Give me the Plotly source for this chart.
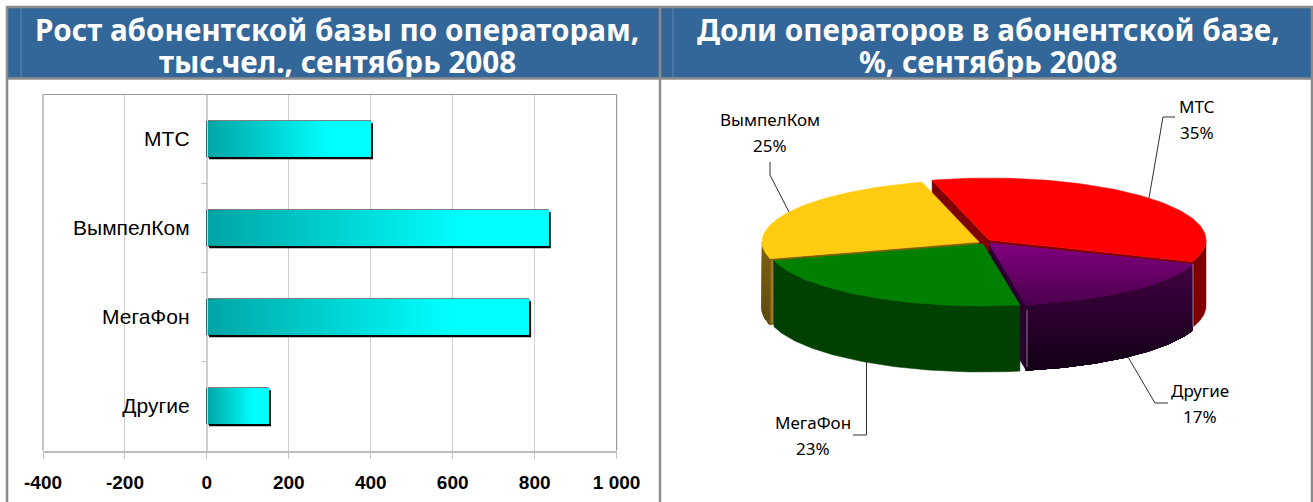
import numpy as np
import plotly.graph_objects as go

# ---- data ----
bar_categories = ["МТС", "ВымпелКом", "МегаФон", "Другие"]
bar_values = [400, 834, 786, 151]
x_tick_values = [-400, -200, 0, 200, 400, 600, 800, 1000]
x_tick_labels = ["-400", "-200", "0", "200", "400", "600", "800", "1 000"]
pie_labels = ["МТС", "Другие", "МегаФон", "ВымпелКом"]
pie_shares = [34.9, 16.6, 23.4, 25.1]
title_left = ["Рост абонентской базы по операторам,", "тыс.чел., сентябрь 2008"]
title_right = ["Доли операторов в абонентской базе,", "%, сентябрь 2008"]

W, H = 1313, 502
PX0, PX1, PY0, PY1 = 43.0, 616.6, 94.5, 450.5
xmin, xmax = -400, 1000
px_per_unit = (PX1 - PX0) / (xmax - xmin)
px_per_cat = (PY1 - PY0) / len(bar_categories)
BAR_W = 0.405
N_GRAD = 70


def lerp(c0, c1, f):
    f = max(0.0, min(1.0, f))
    return "rgb({},{},{})".format(*[int(round(a + (b - a) * f)) for a, b in zip(c0, c1)])


fig = go.Figure()
vals = np.array(bar_values, dtype=float)

# shadow
fig.add_trace(go.Bar(y=bar_categories, x=vals, base=2.2 / px_per_unit, orientation="h",
                     width=BAR_W, offset=-BAR_W / 2 + 2.2 / px_per_cat,
                     marker=dict(color="black", line=dict(width=0)), hoverinfo="skip"))
# outline
fig.add_trace(go.Bar(y=bar_categories, x=vals, base=0, orientation="h", width=BAR_W,
                     offset=-BAR_W / 2,
                     marker=dict(color="#00a8a8", line=dict(width=1, color="#101010")),
                     hoverinfo="skip"))
# gradient: each step runs to the bar's end and is painted over by the next step
for k in range(N_GRAD):
    f = k / N_GRAD
    fig.add_trace(go.Bar(y=bar_categories, x=vals * (1 - f), base=vals * f, orientation="h",
                         width=BAR_W - 0.012, offset=-(BAR_W - 0.012) / 2,
                         marker=dict(color=lerp((0, 166, 166), (0, 255, 255), f / 0.75),
                                     line=dict(width=0)),
                         hoverinfo="skip"))

# ---- 3D pie, angles derived from shares ----
A, B, DEPTH = 217.0, 62.0, 66.0
START = 105.2
centers = {"МТС": (989, 240), "Другие": (989, 243), "МегаФон": (983, 244), "ВымпелКом": (979, 242)}

angles = {}
a = START
for name, s in zip(pie_labels, pie_shares):
    angles[name] = (a, a - s * 3.6)
    a -= s * 3.6


def ell(c, t):
    t = np.radians(t)
    return c[0] + A * np.cos(t), c[1] - B * np.sin(t)


def top_poly(name):
    c = centers[name]
    t0, t1 = angles[name]
    x, y = ell(c, np.linspace(t0, t1, 90))
    return np.r_[c[0], x, c[0]], np.r_[c[1], y, c[1]]


def side_poly(name, t0, t1):
    c = centers[name]
    x, y = ell(c, np.linspace(t0, t1, 70))
    return np.r_[x, x[::-1], x[0]], np.r_[y, y[::-1] + DEPTH, y[0]]


def radial_face(name, t):
    c = centers[name]
    x, y = ell(c, t)
    return np.array([c[0], x, x, c[0], c[0]]), np.array([c[1], y, y + DEPTH, c[1] + DEPTH, c[1]])


def poly(x, y, color):
    fig.add_trace(go.Scatter(x=x, y=y, xaxis="x2", yaxis="y2", mode="lines", fill="toself",
                             fillcolor=color, line=dict(color=color, width=0.5), hoverinfo="skip"))


def clip_low(x, y, lo):
    pts = list(zip(x, y))
    out = []
    for i in range(len(pts)):
        p, q = pts[i], pts[(i + 1) % len(pts)]
        kp, kq = p[1] >= lo, q[1] >= lo
        if kp:
            out.append(p)
        if kp != kq:
            r = (lo - p[1]) / (q[1] - p[1])
            out.append((p[0] + r * (q[0] - p[0]), lo))
    if not out:
        return None, None
    xs, ys = zip(*out)
    return np.array(xs + xs[:1]), np.array(ys + ys[:1])


def grad_poly(x, y, c0, c1, n=28):
    # vertical gradient: each band reaches to the bottom and is painted over by the next
    lo, hi = np.min(y), np.max(y)
    edges = np.linspace(lo, hi, n + 1)
    for i in range(n):
        cx, cy = clip_low(x, y, edges[i])
        if cx is not None:
            poly(cx, cy, lerp(c0, c1, (i + 0.5) / n))


# back pieces first
t0, t1 = angles["МТС"]
poly(*radial_face("МТС", t0), "#800000")
poly(*radial_face("МТС", t1), "#800000")
poly(*side_poly("МТС", 0, t1), "#800000")
poly(*top_poly("МТС"), "#ff0000")

y_t1 = angles["ВымпелКом"][0]
grad_poly(*side_poly("ВымпелКом", 180, y_t1 + 360), (128, 100, 10), (92, 74, 16), 12)
poly(*radial_face("ВымпелКом", y_t1), "#806000")
poly(*top_poly("ВымпелКом"), "#ffcc11")

t0, t1 = angles["Другие"]
poly(*radial_face("Другие", t1), "#2a0030")
grad_poly(*side_poly("Другие", t0, t1), (66, 0, 66), (18, 0, 22))
grad_poly(*top_poly("Другие"), (128, 0, 128), (78, 0, 78))

t0, t1 = angles["МегаФон"]
poly(*side_poly("МегаФон", t0, t1), "#004000")
poly(*top_poly("МегаФон"), "#008000")

# ---- frame and headers ----
shapes = []


def pshape(kind, x0, y0, x1, y1, **kw):
    shapes.append(dict(type=kind, xref="x2", yref="y2", x0=x0, y0=y0, x1=x1, y1=y1, **kw))


GRAY = "#8c8c8c"
pshape("rect", 7, 7, 1312, 78, fillcolor="#336699", line=dict(width=0))
for x in (21, 673):
    pshape("line", x, 8, x, 77, line=dict(color="#5f88b2", width=1))
pshape("line", 6, 7, 1313, 7, line=dict(color=GRAY, width=2.5))
pshape("line", 6, 78.5, 1313, 78.5, line=dict(color=GRAY, width=2.5))
for x in (7, 660, 1312):
    pshape("line", x, 6, x, H, line=dict(color=GRAY, width=2.5))

# chart border
pshape("line", PX0, PY0, PX1, PY0, line=dict(color="#9a9a9a", width=1.2))
pshape("line", PX0, PY0, PX0, PY1, line=dict(color="#9a9a9a", width=1.2))
pshape("line", PX1, PY0, PX1, PY1, line=dict(color="#9a9a9a", width=1.2))

# pale edge highlights on the pie walls
for x, y0, y1 in ((772, 260, 323), (1027, 310, 367), (1193, 264, 327)):
    pshape("line", x, y0, x, y1, line=dict(color="#b09ab0", width=0.8))

# leader lines
leaders = [
    [(1175, 117), (1163, 117), (1149, 198)],
    [(770, 162), (770, 175), (789, 212)],
    [(853, 435), (866.5, 435), (866.5, 362)],
    [(1168, 403), (1155, 403), (1128, 357)],
]
for pts in leaders:
    for p, q in zip(pts, pts[1:]):
        pshape("line", p[0], p[1], q[0], q[1], line=dict(color="#303030", width=1))

# ---- texts ----
annotations = []


def text(x, y, s, size, color="black", family="Noto Sans", weight="normal", **kw):
    annotations.append(dict(xref="x2", yref="y2", x=x, y=y, text=s, showarrow=False,
                            xanchor="center", yanchor="middle",
                            font=dict(size=size, color=color, family=family, weight=weight), **kw))


for cx, lines in ((337, title_left), (988, title_right)):
    for yy, s in zip((29, 61), lines):
        text(cx, yy, s, 29.7, "white", "Noto Sans", "bold", height=32)

label_pos = {"МТС": (1197, 106), "ВымпелКом": (770, 119), "МегаФон": (813, 422), "Другие": (1200, 390)}
for name, s in zip(pie_labels, pie_shares):
    lx, ly = label_pos[name]
    text(lx, ly, name, 17)
    text(lx, ly + 26, f"{round(s)}%", 17)

fig.update_layout(
    width=W, height=H, margin=dict(l=0, r=0, t=0, b=0), showlegend=False,
    paper_bgcolor="white", plot_bgcolor="rgba(0,0,0,0)", barmode="overlay",
    shapes=shapes, annotations=annotations,
    xaxis=dict(domain=[PX0 / W, PX1 / W], range=[xmin, xmax], tickvals=x_tick_values,
               ticktext=x_tick_labels, showgrid=True, gridcolor="#cfcfcf", gridwidth=1.2,
               zeroline=False, showline=True, linecolor="#bdbdbd", linewidth=2,
               ticks="outside", ticklen=6, tickcolor="#c4c4c4", tickwidth=1,
               ticklabelstandoff=8, automargin=False,
               tickfont=dict(family="Liberation Sans", size=19, color="black", weight="bold")),
    yaxis=dict(domain=[1 - PY1 / H, 1 - PY0 / H], type="category",
               categoryorder="array", categoryarray=bar_categories,
               range=[len(bar_categories) - 0.5, -0.5], anchor="free",
               position=(PX0 + (0 - xmin) * px_per_unit) / W,
               tickson="boundaries", ticks="outside", ticklen=6, tickcolor="#c4c4c4",
               showline=True, linecolor="#cfcfcf", linewidth=1.2, showgrid=False,
               zeroline=False, ticklabelstandoff=13, automargin=False,
               tickfont=dict(family="Liberation Sans", size=21, color="black")),
    xaxis2=dict(domain=[0, 1], range=[0, W], visible=False, fixedrange=True, automargin=False),
    yaxis2=dict(domain=[0, 1], range=[H, 0], visible=False, anchor="x2", fixedrange=True,
                automargin=False),
)

fig.write_html("out.html", config=dict(displayModeBar=False),
               post_script="document.body.style.margin='0';document.body.style.overflow='hidden';")
